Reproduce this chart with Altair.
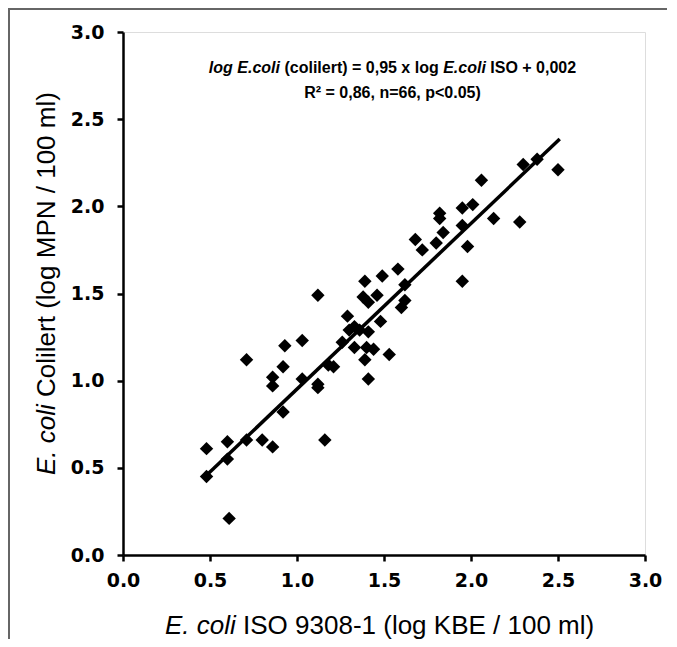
import altair as alt
import pandas as pd

# ---- data ----
iso = [0.48, 0.48, 0.60, 0.60, 0.61, 0.71, 0.71, 0.80, 0.86, 0.86, 0.86, 0.92, 0.93, 0.92,
       1.03, 1.03, 1.12, 1.12, 1.12, 1.16, 1.18, 1.21, 1.29, 1.30, 1.33, 1.33, 1.40, 1.44,
       1.39, 1.41, 1.41, 1.48, 1.53, 1.38, 1.46, 1.41, 1.39, 1.49, 1.58, 1.62, 1.62, 1.60,
       1.68, 1.72, 1.80, 1.84, 1.82, 1.82, 1.95, 1.95, 2.01, 1.98, 1.95, 2.06, 2.13, 2.28,
       2.30, 2.38, 2.50, 1.36, 1.26]
colilert = [0.45, 0.61, 0.65, 0.55, 0.21, 1.12, 0.66, 0.66, 0.62, 0.97, 1.02, 0.82, 1.20, 1.08,
            1.01, 1.23, 0.98, 0.96, 1.49, 0.66, 1.09, 1.08, 1.37, 1.29, 1.31, 1.19, 1.19, 1.18,
            1.12, 1.01, 1.28, 1.34, 1.15, 1.48, 1.49, 1.45, 1.57, 1.60, 1.64, 1.55, 1.46, 1.42,
            1.81, 1.75, 1.79, 1.85, 1.96, 1.93, 1.89, 1.99, 2.01, 1.77, 1.57, 2.15, 1.93, 1.91,
            2.24, 2.27, 2.21, 1.29, 1.22]

slope = 0.95
intercept = 0.002
fit_x = [0.48, 2.51]
fit_y = [slope * v + intercept for v in fit_x]

ticks = [0.0, 0.5, 1.0, 1.5, 2.0, 2.5, 3.0]

eq_line1 = [("log E.coli", True), ("(colilert) = 0,95 x log", False), ("E.coli", True), ("ISO + 0,002", False)]
eq_line2 = "R\u00b2 = 0,86, n=66, p<0.05)"
x_title = [("E. coli", True), ("ISO 9308-1 (log KBE / 100 ml)", False)]
y_title = [("E. coli", True), ("Colilert (log MPN / 100 ml)", False)]

# ---- Arial (Liberation Sans) advance widths, per 1000 em ----
REG = {' ': 278, '.': 278, ',': 278, '(': 333, ')': 333, '/': 278, '-': 333, 'E': 667, 'c': 500,
       'o': 556, 'l': 222, 'i': 222, 'C': 722, 'e': 556, 'r': 333, 't': 278, 'g': 556, 'M': 833,
       'P': 667, 'N': 722, 'm': 833, 'I': 278, 'S': 667, 'O': 778, 'K': 667, 'B': 667}
BOLD = {' ': 278, '.': 278, ',': 278, '(': 333, ')': 333, 'l': 278, 'o': 611, 'g': 611, 'E': 667,
        'c': 556, 'i': 278, 'e': 556, 'r': 389, 't': 333, '=': 584, 'x': 556, 'I': 278, 'S': 667,
        'O': 778, '+': 584}


def width(s, size, bold=False):
    tab = BOLD if bold else REG
    return sum(tab.get(ch, 556) for ch in s) * size / 1000.0


W, H = 522, 523
FONT = "Liberation Sans"

pts = pd.DataFrame({"iso": iso, "colilert": colilert})
fit = pd.DataFrame({"iso": fit_x, "colilert": fit_y})
one = pd.DataFrame({"a": [0]})

xscale = alt.Scale(domain=[0, 3], nice=False, zero=False)
yscale = alt.Scale(domain=[0, 3], nice=False, zero=False)

axis_common = dict(values=ticks, format=".1f", grid=False, domainColor="black", domainWidth=2.5,
                   tickColor="black", tickWidth=2.5, labelFont="DejaVu Sans", labelFontWeight="bold",
                   labelFontSize=19, labelColor="black", labelFlush=False, labelOverlap=False, title=None)

points = alt.Chart(pts).mark_point(shape="diamond", filled=True, color="black", opacity=1, size=180).encode(
    x=alt.X("iso:Q", scale=xscale, axis=alt.Axis(tickSize=6, labelPadding=10, **axis_common)),
    y=alt.Y("colilert:Q", scale=yscale, axis=alt.Axis(tickSize=6, labelPadding=13, **axis_common)),
)

line = alt.Chart(fit).mark_line(color="black", strokeWidth=3.5).encode(
    x=alt.X("iso:Q", scale=xscale), y=alt.Y("colilert:Q", scale=yscale)
)

layers = [points, line]

# equation, line 1 (mixed italic)
size_eq = 16
total = 0
for i, (s, it) in enumerate(eq_line1):
    total += width(s, size_eq, True) + (width(' ', size_eq, True) if i else 0)
cx = 269.5
xpos = cx - total / 2
for i, (s, it) in enumerate(eq_line1):
    if i:
        xpos += width(' ', size_eq, True)
    layers.append(alt.Chart(one).mark_text(font=FONT, fontSize=size_eq, fontWeight="bold",
                                           fontStyle="italic" if it else "normal", align="left",
                                           baseline="alphabetic", color="black").encode(
        x=alt.value(xpos), y=alt.value(41), text=alt.value(s)))
    xpos += width(s, size_eq, True)

layers.append(alt.Chart(one).mark_text(font=FONT, fontSize=size_eq, fontWeight="bold", align="center",
                                       baseline="alphabetic", color="black").encode(
    x=alt.value(cx), y=alt.value(66), text=alt.value(eq_line2)))

# x axis title
size_t = 26
xpos = 42
for i, (s, it) in enumerate(x_title):
    if i:
        xpos += width(' ', size_t)
    layers.append(alt.Chart(one).mark_text(font=FONT, fontSize=size_t, fontStyle="italic" if it else "normal",
                                           align="left", baseline="alphabetic", color="black").encode(
        x=alt.value(xpos), y=alt.value(602), text=alt.value(s)))
    xpos += width(s, size_t)

# y axis title (rotated, reads bottom to top)
ypos = 443
for i, (s, it) in enumerate(y_title):
    if i:
        ypos -= width(' ', size_t)
    layers.append(alt.Chart(one).mark_text(font=FONT, fontSize=size_t, fontStyle="italic" if it else "normal",
                                           align="left", baseline="alphabetic", angle=270, color="black").encode(
        x=alt.value(-68), y=alt.value(ypos), text=alt.value(s)))
    ypos -= width(s, size_t)

# outer frame (left and top edges) as thin filled rectangles
layers.append(alt.Chart(one).mark_rect(color="#666666").encode(
    x=alt.value(-115), x2=alt.value(-113), y=alt.value(-24), y2=alt.value(H + 95)))
layers.append(alt.Chart(one).mark_rect(color="#666666").encode(
    x=alt.value(-115), x2=alt.value(W + 40), y=alt.value(-24), y2=alt.value(-22)))

chart = alt.layer(*layers).properties(
    width=W, height=H,
    autosize=alt.AutoSizeParams(type="none"),
    padding={"left": 115, "top": 24, "right": 22, "bottom": 84},
).configure_view(stroke=None).configure(background="white")

chart.save("out.html", embed_options={"renderer": "svg", "actions": False})
